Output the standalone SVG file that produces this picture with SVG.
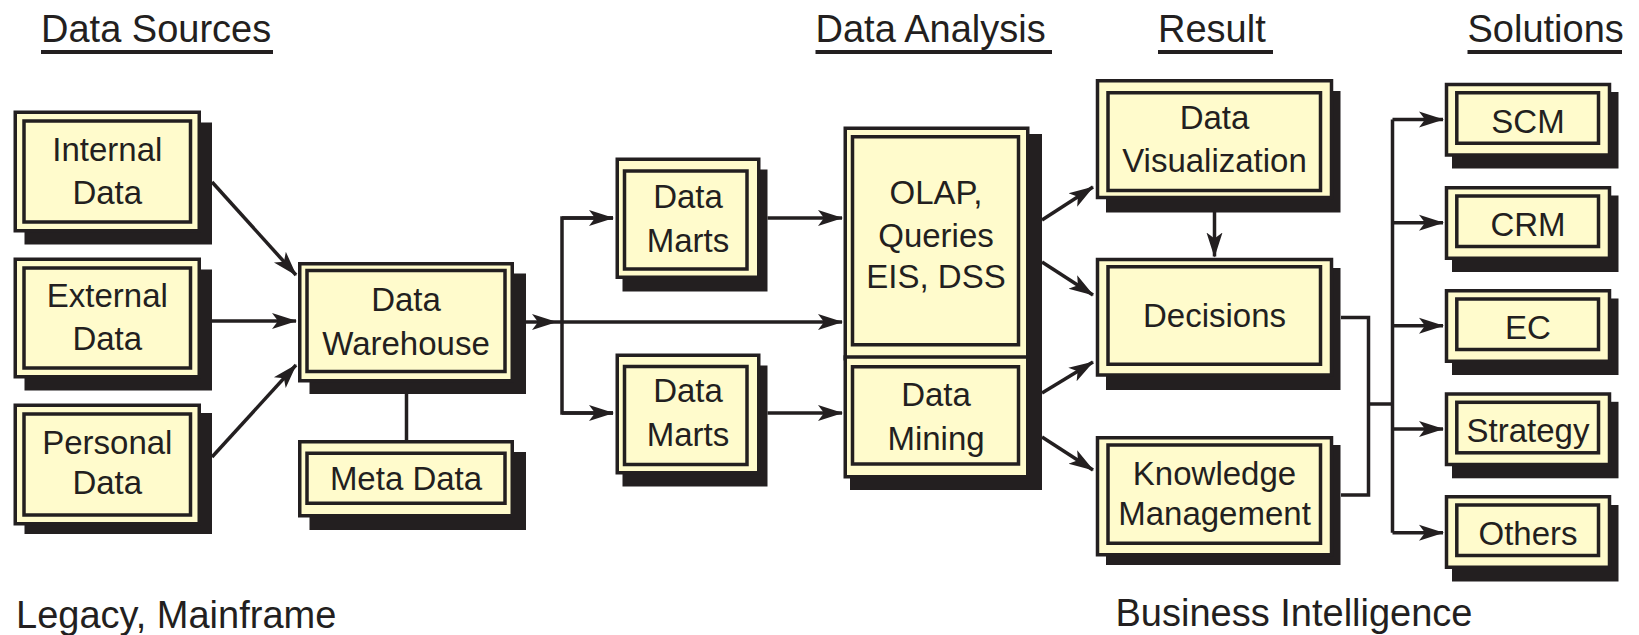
<svg xmlns="http://www.w3.org/2000/svg" width="1639" height="635" viewBox="0 0 1639 635">
<style>
  .sh { fill: #231f20; }
  .ob { fill: #fffbcc; stroke: #231f20; stroke-width: 3.5; }
  .ib { fill: none; stroke: #231f20; stroke-width: 3.5; }
  .t { font-family: "Liberation Sans", Arial, sans-serif; font-size: 33px; fill: #231f20; text-anchor: middle; }
  .h { font-family: "Liberation Sans", Arial, sans-serif; font-size: 38px; fill: #231f20; }
  .ln { fill: none; stroke: #231f20; stroke-width: 3.5; }
  .ar { fill: none; stroke: #231f20; stroke-width: 3.5; marker-end: url(#ah); }
</style>
<defs>
  <marker id="ah" markerUnits="userSpaceOnUse" markerWidth="28" markerHeight="20" refX="24" refY="9" orient="auto">
    <path d="M0,1 L25,9 L0,17 L6,9 z" fill="#231f20"/>
  </marker>
</defs>
<rect width="1639" height="635" fill="#ffffff"/>

<g id="titles">
  <text class="h" x="41" y="42">Data Sources</text>
  <rect class="sh" x="41" y="50" width="232" height="4"/>
  <text class="h" x="815.5" y="42">Data Analysis</text>
  <rect class="sh" x="815.5" y="50" width="236.5" height="4"/>
  <text class="h" x="1158" y="42">Result</text>
  <rect class="sh" x="1158" y="50" width="115" height="4"/>
  <text class="h" x="1467.5" y="42">Solutions</text>
  <rect class="sh" x="1467.5" y="50" width="154.5" height="4"/>
  <text class="h" x="16" y="627.5">Legacy, Mainframe</text>
  <text class="h" x="1115.5" y="626">Business Intelligence</text>
</g>

<g id="connectors">
  <line class="ar" x1="212" y1="182" x2="296" y2="275"/>
  <line class="ar" x1="212" y1="321" x2="296" y2="321"/>
  <line class="ar" x1="212" y1="457" x2="296" y2="365"/>
  <line class="ln" x1="406.5" y1="394" x2="406.5" y2="440"/>
  <line class="ar" x1="526" y1="322" x2="556" y2="322"/>
  <line class="ar" x1="556" y1="322" x2="842" y2="322"/>
  <polyline class="ln" points="613,218 562,218 562,413 613,413"/>
  <line class="ar" x1="562" y1="218" x2="613" y2="218"/>
  <line class="ar" x1="562" y1="413" x2="613" y2="413"/>
  <line class="ar" x1="767.5" y1="218" x2="842" y2="218"/>
  <line class="ar" x1="767.5" y1="413" x2="842" y2="413"/>
  <line class="ar" x1="1042" y1="220" x2="1093" y2="187"/>
  <line class="ar" x1="1042" y1="262" x2="1093" y2="295"/>
  <line class="ar" x1="1042" y1="393" x2="1093" y2="362"/>
  <line class="ar" x1="1042" y1="437" x2="1093" y2="470"/>
  <line class="ar" x1="1214.5" y1="212" x2="1214.5" y2="256.5"/>
  <polyline class="ln" points="1341,317.5 1368.5,317.5 1368.5,495 1341,495"/>
  <line class="ln" x1="1368.5" y1="404" x2="1392.5" y2="404"/>
  <line class="ln" x1="1392.5" y1="119.5" x2="1392.5" y2="532.7"/>
  <line class="ar" x1="1392.5" y1="119.5" x2="1443" y2="119.5"/>
  <line class="ar" x1="1392.5" y1="222.7" x2="1443" y2="222.7"/>
  <line class="ar" x1="1392.5" y1="325.7" x2="1443" y2="325.7"/>
  <line class="ar" x1="1392.5" y1="429" x2="1443" y2="429"/>
  <line class="ar" x1="1392.5" y1="532.7" x2="1443" y2="532.7"/>
</g>

<g id="internal-data">
  <rect class="sh" x="24.5" y="122.5" width="187.5" height="122"/>
  <rect class="ob" x="15.25" y="112.25" width="184" height="118.5"/>
  <rect class="ib" x="24" y="121" width="166.5" height="101"/>
  <text class="t" x="107.3" y="160.5">Internal</text>
  <text class="t" x="107.3" y="203.5">Data</text>
</g>

<g id="external-data">
  <rect class="sh" x="24.5" y="269.5" width="187.5" height="121"/>
  <rect class="ob" x="15.25" y="259.25" width="184" height="117.5"/>
  <rect class="ib" x="24" y="268" width="166.5" height="100"/>
  <text class="t" x="107.3" y="307">External</text>
  <text class="t" x="107.3" y="350">Data</text>
</g>

<g id="personal-data">
  <rect class="sh" x="24.5" y="413" width="187.5" height="121"/>
  <rect class="ob" x="15.25" y="405.25" width="184" height="118.5"/>
  <rect class="ib" x="24" y="414" width="166.5" height="101"/>
  <text class="t" x="107.3" y="453.5">Personal</text>
  <text class="t" x="107.3" y="494">Data</text>
</g>

<g id="data-warehouse">
  <rect class="sh" x="309.5" y="273.5" width="216.5" height="120.5"/>
  <rect class="ob" x="299.75" y="263.75" width="212.5" height="117"/>
  <rect class="ib" x="307" y="270.5" width="198" height="101"/>
  <text class="t" x="406" y="311">Data</text>
  <text class="t" x="406" y="355">Warehouse</text>
</g>

<g id="meta-data">
  <rect class="sh" x="309.5" y="452" width="216.5" height="78"/>
  <rect class="ob" x="299.75" y="441.75" width="212.5" height="74"/>
  <rect class="ib" x="307" y="453.25" width="198" height="50"/>
  <text class="t" x="406" y="489.5">Meta Data</text>
</g>

<g id="data-marts-1">
  <rect class="sh" x="622.5" y="169.5" width="145" height="122"/>
  <rect class="ob" x="617.25" y="159.25" width="141.5" height="118"/>
  <rect class="ib" x="624.5" y="171" width="122.5" height="98"/>
  <text class="t" x="688" y="207.7">Data</text>
  <text class="t" x="688" y="251.7">Marts</text>
</g>

<g id="data-marts-2">
  <rect class="sh" x="622.5" y="365.5" width="145" height="121"/>
  <rect class="ob" x="617.25" y="355.25" width="141.5" height="117.5"/>
  <rect class="ib" x="624.5" y="366.5" width="122.5" height="98"/>
  <text class="t" x="688" y="402.3">Data</text>
  <text class="t" x="688" y="446">Marts</text>
</g>

<g id="olap-queries">
  <rect class="sh" x="850" y="134" width="192" height="356"/>
  <rect class="ob" x="845.25" y="128.25" width="182.5" height="230.5"/>
  <rect class="ib" x="852.5" y="136.75" width="166" height="208"/>
  <text class="t" x="936" y="204">OLAP,</text>
  <text class="t" x="936" y="247.3">Queries</text>
  <text class="t" x="936" y="287.7">EIS, DSS</text>
</g>

<g id="data-mining">
  <rect class="ob" x="845.25" y="357" width="182.5" height="119.75"/>
  <rect class="ib" x="852.5" y="366.75" width="166" height="97.25"/>
  <text class="t" x="936" y="405.7">Data</text>
  <text class="t" x="936" y="450">Mining</text>
</g>

<g id="data-visualization">
  <rect class="sh" x="1106" y="91" width="234.5" height="121.5"/>
  <rect class="ob" x="1097.5" y="80.75" width="234" height="116.75"/>
  <rect class="ib" x="1108" y="92.75" width="212.5" height="97.75"/>
  <text class="t" x="1214.5" y="129">Data</text>
  <text class="t" x="1214.5" y="171.7">Visualization</text>
</g>

<g id="decisions">
  <rect class="sh" x="1106" y="268" width="234.5" height="122"/>
  <rect class="ob" x="1097.5" y="259.5" width="234" height="115.5"/>
  <rect class="ib" x="1108" y="266.75" width="212.5" height="97.5"/>
  <text class="t" x="1214.5" y="326.7">Decisions</text>
</g>

<g id="knowledge-management">
  <rect class="sh" x="1106" y="445" width="234.5" height="120"/>
  <rect class="ob" x="1097.5" y="437.75" width="234" height="117"/>
  <rect class="ib" x="1108" y="445" width="212.5" height="98.25"/>
  <text class="t" x="1214.5" y="485">Knowledge</text>
  <text class="t" x="1214.5" y="525">Management</text>
</g>

<g id="scm">
  <rect class="sh" x="1452" y="92" width="166.5" height="76.5"/>
  <rect class="ob" x="1446.5" y="84.5" width="163" height="70.5"/>
  <rect class="ib" x="1456.8" y="92.75" width="141.7" height="50.5"/>
  <text class="t" x="1528" y="132.7">SCM</text>
</g>

<g id="crm">
  <rect class="sh" x="1452" y="195.5" width="166.5" height="76.5"/>
  <rect class="ob" x="1446.5" y="187.75" width="163" height="70.5"/>
  <rect class="ib" x="1456.8" y="196" width="141.7" height="50.5"/>
  <text class="t" x="1528" y="236">CRM</text>
</g>

<g id="ec">
  <rect class="sh" x="1452" y="298.5" width="166.5" height="76.5"/>
  <rect class="ob" x="1446.5" y="290.75" width="163" height="70.5"/>
  <rect class="ib" x="1456.8" y="299" width="141.7" height="50.5"/>
  <text class="t" x="1528" y="339">EC</text>
</g>

<g id="strategy">
  <rect class="sh" x="1452" y="401.8" width="166.5" height="76.5"/>
  <rect class="ob" x="1446.5" y="394" width="163" height="70.5"/>
  <rect class="ib" x="1456.8" y="402.3" width="141.7" height="50.5"/>
  <text class="t" x="1528" y="441.7">Strategy</text>
</g>

<g id="others">
  <rect class="sh" x="1452" y="505" width="166.5" height="76.5"/>
  <rect class="ob" x="1446.5" y="496.75" width="163" height="70.5"/>
  <rect class="ib" x="1456.8" y="505" width="141.7" height="50.5"/>
  <text class="t" x="1528" y="545">Others</text>
</g>
</svg>
